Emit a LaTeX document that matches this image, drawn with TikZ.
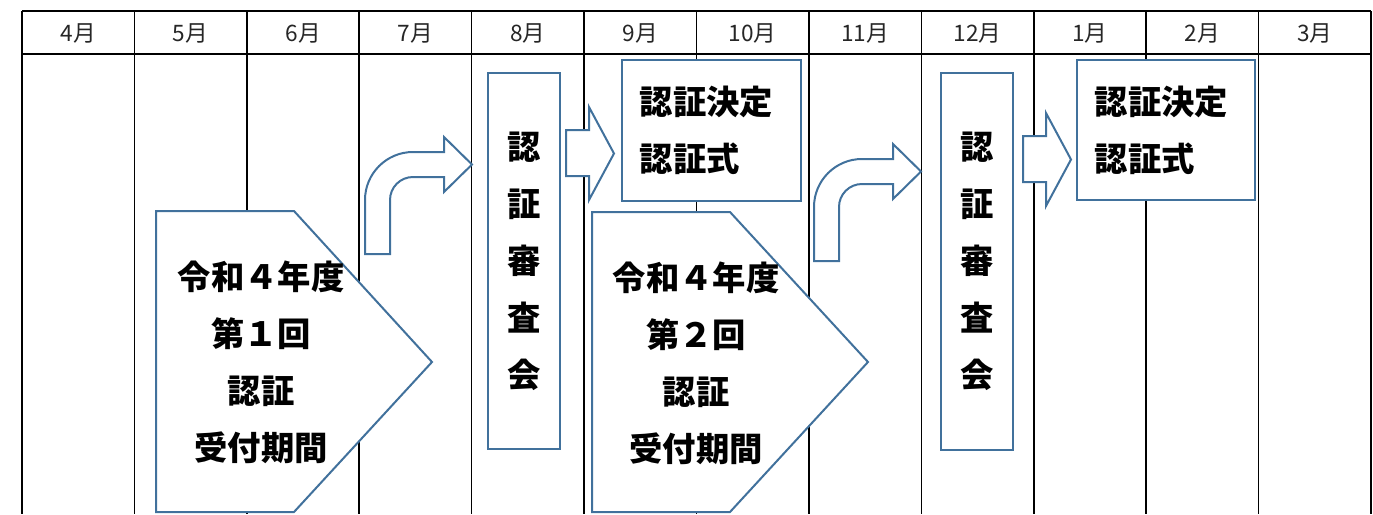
\documentclass[tikz,border=0pt]{standalone}
\usepackage{fontspec}
\newfontfamily\jpfont{Noto Sans CJK JP}
\definecolor{shapeblue}{RGB}{65,113,156}
\tikzset{
	gridline/.style={line width=1.2pt},
	blueshape/.style={draw=shapeblue,line width=1.5pt,fill=white},
	monthtext/.style={font=\jpfont\fontsize{17}{17}\selectfont,text=black!85},
	bodytext/.style={font=\jpfont\bfseries\fontsize{25}{42.75}\selectfont,align=center,inner sep=0pt},
}
\begin{document}
\begin{tikzpicture}[x=0.75pt,y=-0.75pt]
	\useasboundingbox (0,0) rectangle (1373,514);
	
	% month grid
	\draw[gridline] (22,11) -- (1371,11) (22,54) -- (1371,54);
	\foreach \i in {0,...,12}
		\draw[gridline] (22+112.42*\i,11) -- (22+112.42*\i,514);
	\foreach \m [count=\i from 0] in {4,5,6,7,8,9,10,11,12,1,2,3}
		\node[monthtext] (month\m) at (78.2+112.42*\i,33) {\m 月};
	
	% reception periods
	\draw[blueshape] (156,211) -- (294,211) -- (432,362) -- (294,512) -- (156,512) -- cycle;
	\draw[blueshape] (592,212) -- (730,212) -- (868,362) -- (730,512) -- (592,512) -- cycle;
	\node[bodytext] (period1) at (261,362) {令和４年度\\第１回\\認証\\受付期間};
	\node[bodytext] (period2) at (696,363) {令和４年度\\第２回\\認証\\受付期間};
	
	%bent arrows
	\foreach \dx/\dy in {0/0,449/7}
		\draw[blueshape,shift={(\dx,\dy)}] (365,254) -- (365,200)
			.. controls (365,173.5) and (386.5,152) .. (413,152) -- (444,152) -- (444,137)
			-- (472,164.5) -- (444,192) -- (444,177) -- (413,177)
			.. controls (400.3,177) and (390,187.3) .. (390,200) -- (390,254) -- cycle;
	
	% review meetings
	\node[blueshape,bodytext,minimum width=54pt,minimum height=282pt] (review1) at (524,261) {認\\証\\審\\査\\会};
	\node[blueshape,bodytext,minimum width=54pt,minimum height=282.75pt] (review2) at (977,261.5) {認\\証\\審\\査\\会};
	
	%straight arrows
	\foreach \dx/\dy in {0/0,457/6}
		\draw[blueshape,shift={(\dx,\dy)}] (566,130) -- (589,130) -- (589,107) -- (614,153.5)
			-- (589,200) -- (589,176) -- (566,176) -- cycle;
	
	% decisions
	\node[blueshape,minimum width=134.25pt,minimum height=105.75pt,anchor=north west] (decision1) at (621,59) {};
	\node[blueshape,minimum width=133.5pt,minimum height=105pt,anchor=north west] (decision2) at (1076,59) {};
	\node[bodytext,align=left,anchor=west] (decision1text) at ([xshift=14pt]decision1.west) {認証決定\\認証式};
	\node[bodytext,align=left,anchor=west] (decision2text) at ([xshift=14pt]decision2.west) {認証決定\\認証式};
\end{tikzpicture}
\end{document}
